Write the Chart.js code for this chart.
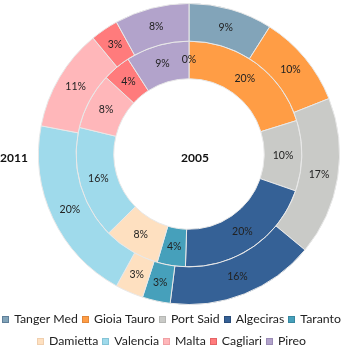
<!DOCTYPE html>
<html>
<head>
<meta charset="utf-8">
<script src="https://cdn.jsdelivr.net/npm/chart.js@4.4.0/dist/chart.umd.min.js"></script>
<style>
  html, body { margin: 0; padding: 0; background: #fff; }
  #wrap { width: 343px; height: 353px; position: relative; }
</style>
</head>
<body>
<div id="wrap"><canvas id="chart" width="343" height="353"></canvas></div>
<script>
// ports, outer ring = 2011, inner ring = 2005
var ports = ['Tanger Med', 'Gioia Tauro', 'Port Said', 'Algeciras', 'Taranto',
             'Damietta', 'Valencia', 'Malta', 'Cagliari', 'Pireo']
var share2011 = [9, 10, 17, 16, 3, 3, 20, 11, 3, 8]
var share2005 = [0, 20, 10, 20, 4, 8, 16, 8, 4, 9]
var years = ['2011', '2005']

var colors = ['#82a4b9', '#ff9d45', '#c9cac7', '#356196', '#46a0bb',
              '#fee0c0', '#9fdaeb', '#ffb7ba', '#ff7b7c', '#b2a3cb']
var legendEdge = ['#5f7f99', '#e0873a', '#b5b6b3', '#2a4d7a', '#37879f',
                  '#f0cfae', '#85c4d6', '#f0a0a4', '#e46466', '#9a8bb5']

var FONT = 'Lato, "Open Sans", sans-serif'

// percent labels in the middle of each slice
var sliceLabels = {
  id: 'sliceLabels',
  afterDatasetsDraw: function (chart) {
    var ctx = chart.ctx
    ctx.save()
    ctx.font = '10.5px ' + FONT
    ctx.fillStyle = '#222'
    ctx.textAlign = 'center'
    ctx.textBaseline = 'middle'
    chart.data.datasets.forEach(function (ds, i) {
      chart.getDatasetMeta(i).data.forEach(function (arc, j) {
        var p = arc.tooltipPosition()
        ctx.fillText(ds.data[j] + '%', p.x, p.y)
      })
    })
    ctx.restore()
  }
}

// year titles and the legend, drawn on the canvas
var extras = {
  id: 'extras',
  afterDraw: function (chart) {
    var ctx = chart.ctx
    var area = chart.chartArea
    var cx = (area.left + area.right) / 2
    var cy = (area.top + area.bottom) / 2
    ctx.save()
    ctx.font = 'bold 12px ' + FONT
    ctx.fillStyle = '#111'
    ctx.textAlign = 'center'
    ctx.textBaseline = 'middle'
    ctx.fillText(years[1], cx + 6, cy + 4)
    ctx.fillText(years[0], 14, cy + 4)

    // legend
    ctx.font = '12.3px ' + FONT
    ctx.textAlign = 'left'
    var box = 7, gap = 5, pad = 4
    var maxW = chart.width - 2
    var rows = [[]], rowW = [0]
    ports.forEach(function (name, i) {
      var w = box + gap + ctx.measureText(name).width
      var r = rows.length - 1
      var add = rows[r].length ? pad + w : w
      if (rowW[r] + add > maxW) {
        rows.push([]); rowW.push(0); r++; add = w
      }
      rows[r].push({ name: name, i: i, w: w })
      rowW[r] += add
    })
    var rowY = [319, 341]
    rows.forEach(function (row, r) {
      var x = (chart.width - rowW[r]) / 2
      var y = rowY[r]
      row.forEach(function (it) {
        var bx = Math.round(x), by = Math.round(y - 3.5)
        ctx.fillStyle = colors[it.i]
        ctx.fillRect(bx, by, box, box)
        ctx.strokeStyle = legendEdge[it.i]
        ctx.lineWidth = 1
        ctx.strokeRect(bx + 0.5, by + 0.5, box - 1, box - 1)
        ctx.fillStyle = '#222'
        ctx.fillText(it.name, x + box + gap, y + 0.5)
        x += it.w + pad
      })
    })
    ctx.restore()
  }
}

var ctx = document.getElementById('chart').getContext('2d')

var chart = new Chart(ctx, {
  type: 'doughnut',
  data: {
    labels: ports,
    datasets: [{
      label: years[0],
      data: share2011,
      backgroundColor: colors,
      borderColor: '#e8e8e8',
      borderWidth: 1
    }, {
      label: years[1],
      data: share2005,
      backgroundColor: colors,
      borderColor: '#e8e8e8',
      borderWidth: 1
    }]
  },
  options: {
    responsive: false,
    animation: false,
    cutout: '50%',
    layout: { padding: { top: 3, bottom: 48, left: 35, right: 0 } },
    plugins: {
      legend: { display: false },
      tooltip: { enabled: false }
    }
  },
  plugins: [sliceLabels, extras]
})
</script>
</body>
</html>
